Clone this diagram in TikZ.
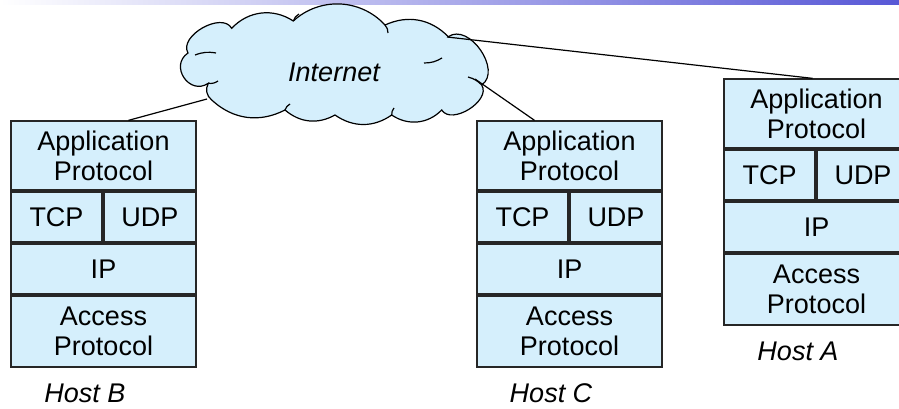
\documentclass[tikz,border=0pt]{standalone}
\usepackage{fontspec}
\setmainfont{Liberation Sans}
\definecolor{netblue}{RGB}{213,239,252}
\definecolor{barblue}{RGB}{88,88,214}

\begin{document}
\begin{tikzpicture}[
    x=1pt, y=-1pt,
    layer/.style={draw=black!85, line width=1.3pt, fill=netblue,
        inner sep=0pt, align=center, minimum width=#1},
    layer/.default=185pt,
    hostlabel/.style={font=\fontsize{27}{30}\selectfont\itshape},
    cloudline/.style={draw=black, line width=1.2pt},
    link/.style={line width=1.2pt, -},
    font=\fontsize{27}{30}\selectfont
]
    \clip (0,0) rectangle (899,409);
    \useasboundingbox (0,0) rectangle (899,409);
    \shade[left color=white, right color=barblue] (0,0) rectangle (899,5);

    % the Internet cloud, puff by puff
    \filldraw[cloudline, fill=netblue]
        (188,53) to[bend left=90] (231.7,28.3)
        to[bend left=40] (293.3,21)
        to[bend left=45] (385,25)
        to[bend left=35] (448.3,36.7)
        to[bend left=90, looseness=1.1] (481.7,85)
        to[bend left=90] (441.7,110)
        to[bend left=40] (391.7,115)
        to[bend left=35] (335,115)
        to[bend left=35] (285,110)
        to[bend left=35] (211.7,100)
        to[bend left=40] (208.3,83.3)
        to[bend left=90, looseness=1.6] cycle;
    \draw[cloudline] (195,55) to[bend left=15] (216,53);
    \draw[cloudline] (208.3,83.3) to[bend right=20] (218,81);
    \draw[cloudline] (293.3,21) to[bend left=20] (299,14);
    \draw[cloudline] (385,25) to[bend left=20] (388,33);
    \draw[cloudline] (424,63) to[bend right=15] (442,58);
    \draw[cloudline] (468,77) to[bend left=15] (481.7,85);
    \draw[cloudline] (285,110) to[bend left=20] (290,104);
    \draw[cloudline] (391.7,115) to[bend left=20] (394,108);

    \node[font=\fontsize{27}{30}\selectfont\itshape] (net) at (334,72) {Internet};
    \coordinate (netB) at (207,99);
    \coordinate (netC) at (475,79);
    \coordinate (netA) at (447,37);

    \foreach \h/\x/\y in {B/11/121, C/477/121, A/724/79} {
        \node[layer, minimum height=69pt] (app\h) at (\x+92.5,\y+34.5) {Application\\Protocol};
        \node[layer=91pt, minimum height=50pt] (tcp\h) at (\x+45.5,\y+96) {TCP};
        \node[layer=92pt, minimum height=50pt] (udp\h) at (\x+139,\y+96) {UDP};
        \node[layer, minimum height=50pt] (ip\h) at (\x+92.5,\y+148) {IP};
        \node[layer, minimum height=71pt] (acc\h) at (\x+92.5,\y+210.5) {Access\\Protocol};
        \node[hostlabel] (lbl\h) at (\x+74,\y+272) {Host \h};
    }

    \draw[link] (netB) -- ([xshift=25pt]appB.north);
    \draw[link] (netC) -- ([xshift=-35pt]appC.north);
    \draw[link] (netA) -- ([xshift=-4pt]appA.north);
\end{tikzpicture}
\end{document}
